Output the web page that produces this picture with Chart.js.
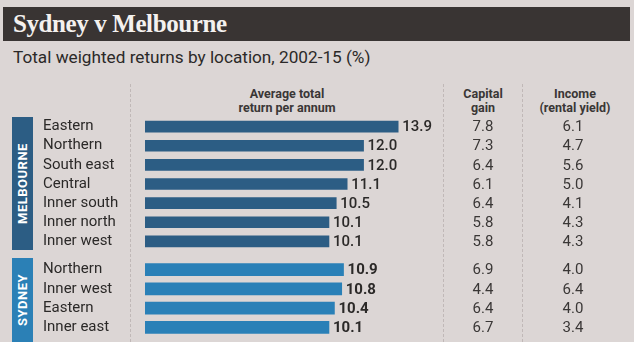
<!DOCTYPE html>
<html>
<head>
<meta charset="utf-8">
<script src="https://cdn.jsdelivr.net/npm/chart.js@4.4.6/dist/chart.umd.min.js"></script>
<style>
  body { margin: 0; background: #dcd6d5; width: 634px; height: 342px; overflow: hidden; position: relative; font-family: Roboto, sans-serif; color: #2b2928; }
  .abs { position: absolute; }
  #titulo { left: 3px; top: 7px; width: 627px; height: 34px; background: #393433; color: #f4f1ef; font: bold 25px "Liberation Serif", serif; line-height: 34px; padding-left: 10px; box-sizing: border-box; letter-spacing: -0.4px; }
  #subtitulo { left: 13px; top: 47px; font-size: 17.2px; white-space: nowrap; }
  .cab { font-size: 12.5px; font-weight: bold; text-align: center; line-height: 14px; white-space: nowrap; color: #3a3736; }
  .banda { left: 12px; width: 21px; color: #fff; font-weight: bold; font-size: 13px; writing-mode: vertical-rl; transform: rotate(180deg); text-align: center; letter-spacing: 0.5px; line-height: 21px; }
  .linea { width: 0; border-left: 1px dashed rgba(140, 128, 128, 0.35); top: 84px; height: 258px; }
  canvas { position: absolute; left: 0; }
</style>
</head>
<body>
<div id="titulo" class="abs">Sydney v Melbourne</div>
<div id="subtitulo" class="abs">Total weighted returns by location, 2002-15 (%)</div>
<div class="abs linea" style="left:130px"></div>
<div class="abs linea" style="left:443px"></div>
<div class="abs linea" style="left:522px"></div>
<div class="abs cab" style="left:187px;width:200px;top:87px">Average total<br>return per annum</div>
<div class="abs cab" style="left:433px;width:100px;top:87px">Capital<br>gain</div>
<div class="abs cab" style="left:515px;width:120px;top:87px">Income<br>(rental yield)</div>
<div class="abs banda" style="top:117px;height:133px;background:#2c5d84">MELBOURNE</div>
<div class="abs banda" style="top:258px;height:84px;background:#2b80b6">SYDNEY</div>
<canvas id="graficaMelbourne" width="634" height="134" style="top:117px"></canvas>
<canvas id="graficaSydney" width="634" height="77" style="top:259.5px"></canvas>
<script>
const melbourneZonas = ["Eastern", "Northern", "South east", "Central", "Inner south", "Inner north", "Inner west"];
const melbourneRetorno = [13.9, 12.0, 12.0, 11.1, 10.5, 10.1, 10.1];
const melbourneCapital = [7.8, 7.3, 6.4, 6.1, 6.4, 5.8, 5.8];
const melbourneIngreso = [6.1, 4.7, 5.6, 5.0, 4.1, 4.3, 4.3];

const sydneyZonas = ["Northern", "Inner west", "Eastern", "Inner east"];
const sydneyRetorno = [10.9, 10.8, 10.4, 10.1];
const sydneyCapital = [6.9, 4.4, 6.4, 6.7];
const sydneyIngreso = [4.0, 6.4, 4.0, 3.4];

const escalaMax = 14;

// columnas de texto a la derecha de las barras
const columnasPlugin = {
    id: 'columnas',
    afterDatasetsDraw(chart, args, opts) {
        const ctx = chart.ctx;
        const barras = chart.getDatasetMeta(0).data;
        ctx.save();
        ctx.textBaseline = 'middle';
        barras.forEach((barra, i) => {
            ctx.fillStyle = '#2b2928';
            ctx.font = opts.pesoValor + ' 15px Roboto, sans-serif';
            ctx.textAlign = 'left';
            ctx.fillText(opts.retorno[i].toFixed(1), barra.x + 4, barra.y + 1);
            ctx.font = '15px Roboto, sans-serif';
            ctx.textAlign = 'center';
            ctx.fillStyle = '#3a3736';
            ctx.fillText(opts.capital[i].toFixed(1), 483, barra.y + 1);
            ctx.fillText(opts.ingreso[i].toFixed(1), 573, barra.y + 1);
        });
        ctx.restore();
    }
};

function crearGrafica(id, zonas, retorno, capital, ingreso, color, pesoValor, grosor) {
    const ctx = document.getElementById(id).getContext('2d');
    return new Chart(ctx, {
        type: 'bar',
        data: {
            labels: zonas,
            datasets: [{
                data: retorno,
                backgroundColor: color,
                borderWidth: 0,
                barThickness: grosor
            }]
        },
        options: {
            indexAxis: 'y',
            responsive: false,
            animation: false,
            layout: { padding: { left: 43, right: 234, top: 0, bottom: 0 } },
            plugins: {
                legend: { display: false },
                tooltip: { enabled: false },
                columnas: { retorno: retorno, capital: capital, ingreso: ingreso, pesoValor: pesoValor }
            },
            scales: {
                x: { display: false, min: 0, max: escalaMax },
                y: {
                    grid: { display: false, drawTicks: false },
                    border: { display: false },
                    afterFit: (escala) => {
                        escala.width = 102;
                        escala.paddingTop = 0;
                        escala.paddingBottom = 0;
                    },
                    ticks: {
                        autoSkip: false,
                        crossAlign: 'far',
                        padding: 0,
                        color: '#2b2928',
                        font: { family: 'Roboto', size: 15 }
                    }
                }
            }
        },
        plugins: [columnasPlugin]
    });
}

crearGrafica('graficaMelbourne', melbourneZonas, melbourneRetorno, melbourneCapital, melbourneIngreso, '#2c5d84', '500', 11);
crearGrafica('graficaSydney', sydneyZonas, sydneyRetorno, sydneyCapital, sydneyIngreso, '#2a80b7', 'bold', 12);
</script>
</body>
</html>
